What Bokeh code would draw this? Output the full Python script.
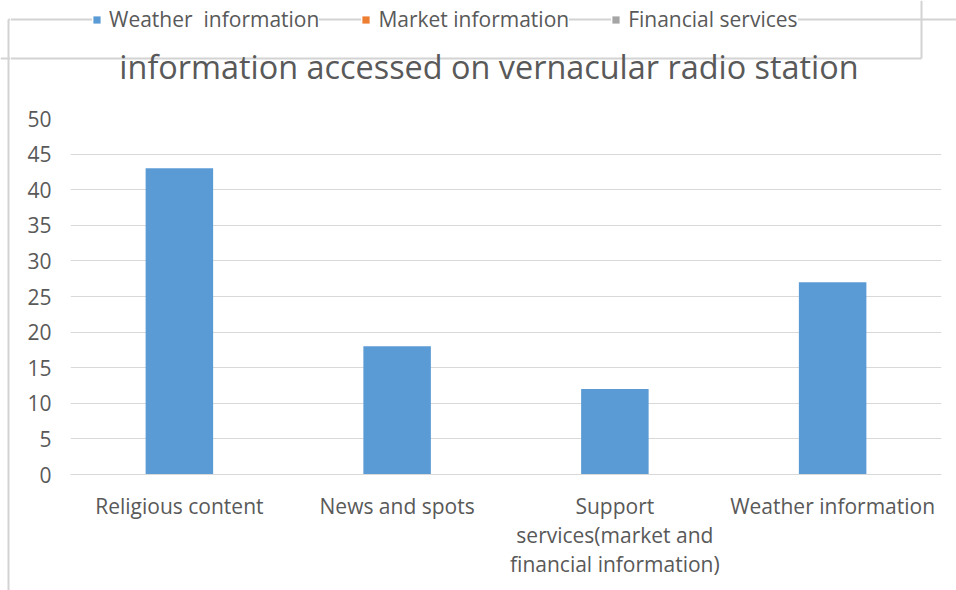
from bokeh.plotting import figure
from bokeh.layouts import column, row
from bokeh.models import FactorRange, Range1d, Legend, LegendItem, Label, FixedTicker
from bokeh.embed import file_html
from bokeh.resources import INLINE

# Chart data
categories = ["Religious content", "News and spots",
              "Support\nservices(market and\nfinancial information)", "Weather information"]
weather_information = [43, 18, 12, 27]
series_names = ["Weather  information", "Market information", "Financial services"]
series_colors = ["#5b9bd5", "#ed7d31", "#a5a5a5"]
y_ticks = [0, 5, 10, 15, 20, 25, 30, 35, 40, 45, 50]
chart_title = "information accessed on vernacular radio station"

TEXT = "#595959"
FONT = "Open Sans"
RULE = "#d3d3d3"
W, H = 956, 590
HEAD_H = 100     # band holding legend + title
STRIP_W = 10     # narrow band at the left carrying the chart border


def blank(x0, x1, y0, y1):
    """A figure whose frame fills its whole canvas, in page pixel coordinates (y down)."""
    f = figure(width=x1 - x0, height=y1 - y0,
               x_range=Range1d(x0, x1), y_range=Range1d(y1, y0),
               x_axis_type=None, y_axis_type=None, min_border=0,
               output_backend="svg", toolbar_location=None)
    f.grid.visible = False
    f.outline_line_color = None
    f.background_fill_color = "white"
    f.border_fill_color = "white"
    return f


# ---- left strip: chart border on the left ----
strip = blank(0, STRIP_W, 0, H)
strip.segment(x0=[8, 8, 0], y0=[19, 19, 58], x1=[8, STRIP_W, STRIP_W], y1=[H, 19, 58],
              line_color=RULE, line_width=2)

# ---- header: chart border, legend box, legend and title ----
head = blank(STRIP_W, W, 0, HEAD_H)
head.segment(x0=[STRIP_W, 921, STRIP_W], y0=[19, 0, 58],
             x1=[W, 921, 921], y1=[19, 58, 58],
             line_color=RULE, line_width=2)

# legend swatches (no values of their own)
proxies = [head.vbar(x=[float("nan")], top=[float("nan")], width=1,
                     fill_color=c, line_color=None)
           for c in series_colors]

legend = Legend(items=[LegendItem(label=n, renderers=[r]) for n, r in zip(series_names, proxies)],
                orientation="horizontal", location=(82, HEAD_H - 33),
                padding=0, margin=0, spacing=42,
                glyph_width=9, glyph_height=9, label_standoff=8,
                label_text_font=FONT, label_text_font_size="21px",
                label_text_color=TEXT,
                background_fill_alpha=0, border_line_color=None,
                item_background_policy="every",
                item_background_fill_color="white", item_background_fill_alpha=1)
head.add_layout(legend)

head.add_layout(Label(x=488.5, y=65, text=chart_title, text_align="center",
                      text_baseline="alphabetic", text_font=FONT, text_font_size="32.4px",
                      text_color=TEXT))

# ---- main bar chart ----
p = figure(x_range=FactorRange(factors=categories, range_padding=0),
           y_range=Range1d(0, 50),
           width=W - STRIP_W, height=H - HEAD_H,
           min_border_left=60, min_border_right=15,
           min_border_top=18, min_border_bottom=116,
           output_backend="svg", toolbar_location=None)

p.vbar(x=categories, top=weather_information, width=0.31,
       fill_color=series_colors[0], line_color=None)

p.outline_line_color = None
p.background_fill_color = "white"
p.border_fill_color = "white"

p.xgrid.grid_line_color = None
p.ygrid.grid_line_color = "#d9d9d9"
p.ygrid.grid_line_width = 1

p.yaxis.ticker = FixedTicker(ticks=y_ticks)
p.yaxis.axis_line_color = None
p.yaxis.major_tick_line_color = None
p.yaxis.minor_tick_line_color = None
p.yaxis.major_label_standoff = 13
p.yaxis.major_label_text_font = FONT
p.yaxis.major_label_text_font_size = "21px"
p.yaxis.major_label_text_color = TEXT

p.xaxis.axis_line_color = "#d9d9d9"
p.xaxis.major_tick_line_color = None
p.xaxis.minor_tick_line_color = None
p.xaxis.major_label_standoff = 11
p.xaxis.major_label_text_font = FONT
p.xaxis.major_label_text_font_size = "21px"
p.xaxis.major_label_text_color = TEXT
p.xaxis.major_label_text_line_height = 1.05

page = row(strip, column(head, row(p, spacing=0), spacing=0), spacing=0)

open("out.html", "w").write(file_html(page, INLINE))
